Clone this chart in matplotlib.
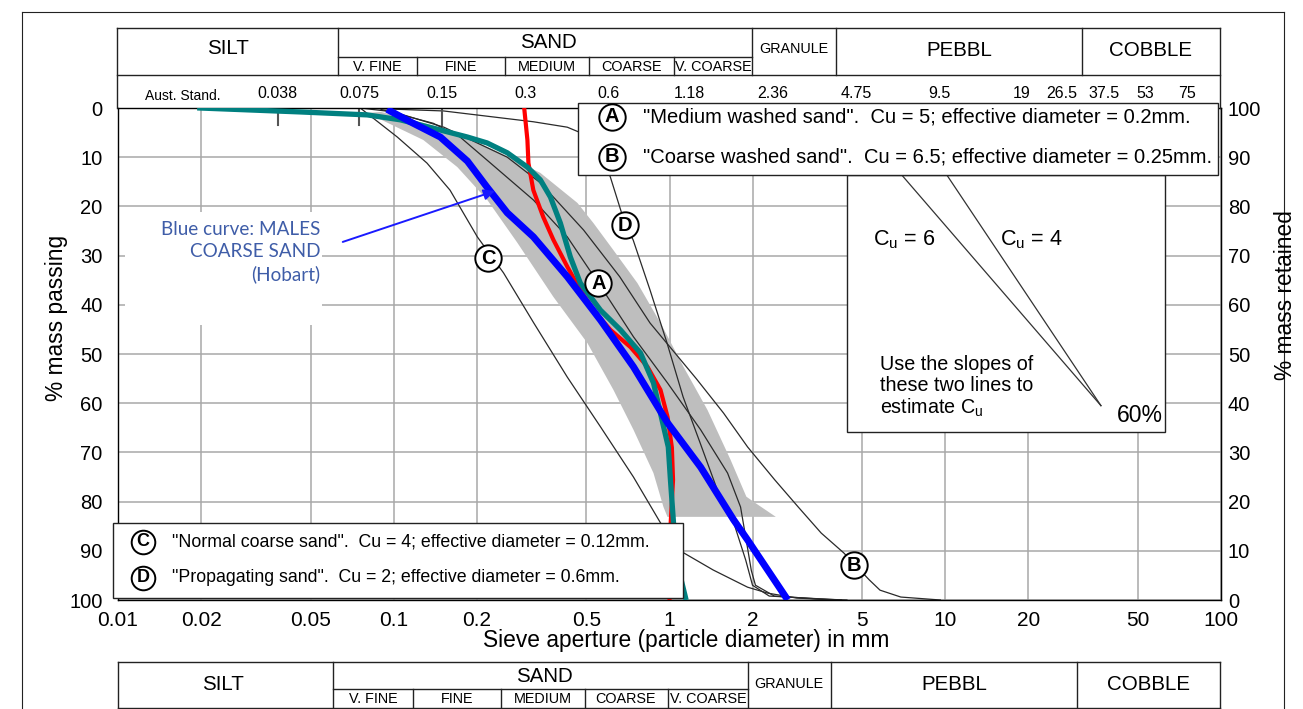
import matplotlib
matplotlib.use('Agg')
import matplotlib.pyplot as plt
from matplotlib.patches import Rectangle
from matplotlib.lines import Line2D
from matplotlib.ticker import NullLocator
from matplotlib.transforms import blended_transform_factory

plt.rcParams['font.family'] = ['Liberation Sans', 'DejaVu Sans']
plt.rcParams['mathtext.fontset'] = 'custom'
plt.rcParams['mathtext.rm'] = 'Liberation Sans'

W, H = 1303, 709

# ---- data (diameter in mm, % mass passing) ----
blue_d = [0.097, 0.1148, 0.1475, 0.185, 0.218, 0.258, 0.321, 0.426, 0.562, 0.740, 0.984, 1.297, 1.708, 1.92, 2.64]
blue_p = [0.6, 2.8, 5.9, 10.8, 16.1, 21.3, 26.2, 34.3, 43.1, 52.6, 64.0, 73.0, 83.7, 87.8, 99.4]

teal_d = [0.0198, 0.0458, 0.0801, 0.1056, 0.139, 0.185, 0.218, 0.258, 0.305, 0.340, 0.370, 0.402, 0.437,
          0.475, 0.562, 0.664, 0.785, 0.875, 0.927, 0.99, 1.008, 1.034, 1.06, 1.143]
teal_p = [0.0, 0.8, 1.4, 2.4, 4.1, 5.9, 7.1, 9.1, 12.0, 14.6, 18.1, 23.4, 30.3,
          35.6, 41.1, 45.1, 49.8, 55.9, 62.0, 68.9, 75.6, 84.3, 92.0, 99.5]

red_d = [0.2977, 0.3053, 0.3079, 0.3208, 0.3487, 0.3793, 0.4264, 0.4753, 0.530, 0.6106, 0.7219, 0.832,
         0.9276, 0.984, 1.02, 1.03, 1.01, 1.0]
red_p = [0.4, 6.5, 11.2, 16.7, 22.2, 26.8, 32.3, 37.0, 41.1, 45.1, 48.6, 52.6,
         57.3, 62.8, 69.0, 75.6, 84.3, 100.0]

a_d = [0.09, 0.139, 0.174, 0.218, 0.321, 0.426, 0.5525, 0.596, 0.740, 0.984, 1.297, 1.624, 1.81, 1.90, 1.98, 2.05, 2.4, 3.5, 4.4]
a_p = [0.3, 3.1, 5.9, 10.6, 18.7, 26.2, 35.6, 38.4, 46.5, 55.9, 65.4, 74.2, 81.1, 88.0, 94.0, 97.0, 99.2, 99.8, 100.0]

b_d = [0.0756, 0.10, 0.152, 0.258, 0.340, 0.488, 0.66, 0.85, 1.25, 1.57, 1.92, 2.41, 2.93, 3.55, 4.28, 5.3, 5.8, 6.9, 9.6]
b_p = [0.0, 0.8, 3.9, 10.0, 15.2, 24.8, 34.3, 43.7, 55.0, 62.0, 68.9, 75.6, 81.1, 86.4, 90.4, 95.9, 98.0, 99.4, 100.0]

c_d = [0.0756, 0.103, 0.132, 0.160, 0.201, 0.250, 0.322, 0.426, 0.562, 0.740, 0.927, 1.124, 1.44, 1.92, 2.27, 2.89, 4.0]
c_p = [0.0, 5.9, 11.2, 16.7, 26.2, 33.5, 43.7, 54.7, 64.8, 75.0, 84.3, 90.4, 93.9, 97.4, 98.6, 99.6, 100.0]

d_d = [0.0756, 0.1515, 0.321, 0.426, 0.47, 0.55, 0.61, 0.692, 0.738, 0.85, 0.98, 1.12, 1.29, 1.49, 1.71, 1.89, 2.0, 2.3, 4.2]
d_p = [0.0, 0.6, 2.8, 3.9, 4.9, 8.0, 14.0, 23.8, 26.8, 37.0, 47.8, 58.7, 68.0, 77.6, 84.3, 91.9, 97.0, 99.2, 100.0]

# grey envelope: left edge then right edge (reversed)
band_left_d = [0.08, 0.1280, 0.170, 0.2185, 0.2808, 0.3793, 0.5041, 0.6262, 0.7402, 0.8747, 0.951, 0.983]
band_left_p = [1.0, 6.5, 12.0, 18.7, 27.4, 38.4, 47.8, 57.3, 65.4, 74.2, 81.1, 83.1]
band_right_d = [0.09, 0.1056, 0.1604, 0.2435, 0.3403, 0.4637, 0.530, 0.6262, 0.7653, 0.9276, 1.124, 1.374, 1.665, 1.90, 2.05, 2.43]
band_right_p = [0.8, 1.8, 4.5, 9.1, 13.2, 19.3, 23.4, 28.9, 35.6, 43.7, 52.6, 61.4, 71.5, 79.0, 80.3, 83.1]

# Cu guide lines meet at 60 % passing
cu_apex_d = 36.7
cu_values = [6, 4]

curve_labels = ['A', 'B', 'C', 'D']
label_d = [0.5525, 4.66, 0.220, 0.692]
label_p = [35.6, 92.9, 30.5, 23.8]

x_ticks = [0.01, 0.02, 0.05, 0.1, 0.2, 0.5, 1, 2, 5, 10, 20, 50, 100]
x_tick_labels = ['0.01', '0.02', '0.05', '0.1', '0.2', '0.5', '1', '2', '5', '10', '20', '50', '100']
y_ticks = list(range(0, 101, 10))

aust_sieves = [0.038, 0.075, 0.15, 0.3, 0.6, 1.18, 2.36, 4.75, 9.5, 19, 26.5, 37.5, 53, 75]
aust_labels = ['0.038', '0.075', '0.15', '0.3', '0.6', '1.18', '2.36', '4.75', '9.5', '19', '26.5', '37.5', '53', '75']
sieve_ticks = [0.038, 0.075, 0.15]

legend_ab = ['"Medium washed sand".  Cu = 5; effective diameter = 0.2mm.',
             '"Coarse washed sand".  Cu = 6.5; effective diameter = 0.25mm.']
legend_cd = ['"Normal coarse sand".  Cu = 4; effective diameter = 0.12mm.',
             '"Propagating sand".  Cu = 2; effective diameter = 0.6mm.']


def fx(x):
    return x / W


def fy(y):
    return 1 - y / H


fig = plt.figure(figsize=(W / 100, H / 100), dpi=100)
ax = fig.add_axes([fx(118), fy(600), (1221 - 118) / W, (600 - 108) / H])
tf = fig.transFigure

ax.set_xscale('log')
ax.set_xlim(0.01, 100)
ax.set_ylim(100, 0)
ax.set_xticks(x_ticks)
ax.set_xticklabels(x_tick_labels)
ax.xaxis.set_minor_locator(NullLocator())
ax.set_yticks(y_ticks)
ax.tick_params(axis='x', length=0, pad=8, labelsize=15)
ax.tick_params(axis='y', length=0, pad=11, labelsize=14.5)
ax.grid(True, color='#a8a8a8', lw=1.1)
ax.set_axisbelow(True)
for s in ax.spines.values():
    s.set_linewidth(1.0)

sec = ax.secondary_yaxis('right', functions=(lambda p: 100 - p, lambda r: 100 - r))
sec.set_yticks(y_ticks)
sec.tick_params(length=0, pad=5, labelsize=14.5)
for t in sec.get_yticklabels():
    t.set_verticalalignment('center_baseline')

# white patch behind the blue note
ax.add_patch(Rectangle((fx(125), fy(325)), 197 / W, 113 / H, transform=tf,
                       fc='white', ec='none', zorder=1, clip_on=False))

ax.fill(band_left_d + band_right_d[::-1], band_left_p + band_right_p[::-1],
        color='#bebebe', lw=0, zorder=1.5)

for dd, pp in [(a_d, a_p), (b_d, b_p), (c_d, c_p), (d_d, d_p)]:
    ax.plot(dd, pp, color='#2a2a2a', lw=0.9, zorder=2)

# short sieve marks along the top
for s in sieve_ticks:
    ax.plot([s, s], [0, 3.5], color='#555555', lw=1.5, zorder=2)

ax.plot(red_d, red_p, color='#ff0000', lw=3.0, zorder=3)
ax.plot(teal_d, teal_p, color='#008080', lw=3.8, zorder=3.5)
ax.plot(blue_d, blue_p, color='#0000ff', lw=5.0, zorder=4)


def badge(x, y, letter, transform, z, ms=19, fs=14.5):
    ax.plot([x], [y], 'o', ms=ms, mfc='white', mec='black', mew=1.4,
            transform=transform, zorder=z, clip_on=False)
    ax.text(x, y, letter, ha='center', va='center', fontsize=fs, fontweight='bold',
            transform=transform, zorder=z + 0.1, clip_on=False)


for lab, dd, pp in zip(curve_labels, label_d, label_p):
    badge(dd, pp, lab, ax.transData, 5)

# blue note and arrow
fig.text(fx(320), fy(252), 'Blue curve: MALES\nCOARSE SAND\n(Hobart)', ha='right', va='center',
         multialignment='right', color='#3f5da8', fontsize=13.6, family=['Lato', 'DejaVu Sans'],
         linespacing=1.35, zorder=6)
ax.annotate('', xy=(0.2376, 16.7), xytext=(0.0639, 27.4),
            arrowprops=dict(arrowstyle='-|>', color='#1a1aff', lw=1.4, mutation_scale=16), zorder=6)

# Cu box
ax.add_patch(Rectangle((fx(847), fy(432)), (1165 - 847) / W, (432 - 175) / H, transform=tf,
                       fc='white', ec='#222222', lw=1.0, zorder=6, clip_on=False))
for cu in cu_values:
    ax.plot([cu_apex_d / cu, cu_apex_d], [10, 60.5], color='#333333', lw=0.9, zorder=6.5)
fig.text(fx(904), fy(240), r'C$_\mathregular{u}$ = 6', ha='center', va='center', fontsize=15.5, zorder=7)
fig.text(fx(1031), fy(240), r'C$_\mathregular{u}$ = 4', ha='center', va='center', fontsize=15.5, zorder=7)
fig.text(fx(880), fy(387), 'Use the slopes of\nthese two lines to\nestimate C$_\\mathregular{u}$', ha='left',
         va='center', fontsize=14.2, linespacing=1.12, zorder=7)
fig.text(fx(1140), fy(416), '60%', ha='center', va='center', fontsize=16.5, zorder=7)

# legend boxes
ax.add_patch(Rectangle((fx(578), fy(175)), (1218 - 578) / W, (175 - 103) / H, transform=tf,
                       fc='white', ec='#222222', lw=1.0, zorder=8, clip_on=False))
for i, (lab, txt) in enumerate(zip(['A', 'B'], legend_ab)):
    yy = [117, 157][i]
    badge(fx(612), fy(yy), lab, tf, 8.5)
    fig.text(fx(643), fy(yy), txt, ha='left', va='center', fontsize=14.5, zorder=9)

ax.add_patch(Rectangle((fx(113), fy(598)), (683 - 113) / W, (598 - 523) / H, transform=tf,
                       fc='white', ec='#222222', lw=1.0, zorder=8, clip_on=False))
for i, (lab, txt) in enumerate(zip(['C', 'D'], legend_cd)):
    yy = [542, 578][i]
    badge(fx(143), fy(yy), lab, tf, 8.5, ms=17, fs=13)
    fig.text(fx(172), fy(yy), txt, ha='left', va='center', fontsize=12.8, zorder=9)

# axis titles
fig.text(fx(686), fy(641), 'Sieve aperture (particle diameter) in mm', ha='center', va='center', fontsize=16.4)
fig.text(fx(56), fy(318), '% mass passing', rotation=90, ha='center', va='center', fontsize=16.4)
fig.text(fx(1286), fy(295), '% mass retained', rotation=90, ha='center', va='center', fontsize=16.4)


def hline(x0, x1, y, lw=1.0):
    fig.add_artist(Line2D([fx(x0), fx(x1)], [fy(y), fy(y)], color='#222222', lw=lw))


def vline(x, y0, y1, lw=1.0):
    fig.add_artist(Line2D([fx(x), fx(x)], [fy(y0), fy(y1)], color='#222222', lw=lw))


# page frame
hline(22, 1284, 12, 0.8)
vline(22, 12, 709, 0.8)
vline(1284, 12, 709, 0.8)

# top classification table
hline(117, 1220, 28)
hline(117, 1220, 75)
hline(338, 752, 57)
for x in [117, 1220]:
    vline(x, 28, 108)
for x in [338, 752, 836, 1082]:
    vline(x, 28, 75)
for x in [417, 505, 589, 674]:
    vline(x, 57, 75)
big = dict(ha='center', va='center', fontsize=14.8)
small = dict(ha='center', va='center', fontsize=10.4)
fig.text(fx(228), fy(49), 'SILT', **big)
fig.text(fx(548), fy(42), 'SAND', **big)
fig.text(fx(959), fy(50), 'PEBBL', **big)
fig.text(fx(1150), fy(50), 'COBBLE', **big)
fig.text(fx(794), fy(49), 'GRANULE', **small)
for x, t in zip([377, 461, 547, 631, 713], ['V. FINE', 'FINE', 'MEDIUM', 'COARSE', 'V. COARSE']):
    fig.text(fx(x), fy(67), t, **small)
fig.text(fx(183), fy(96), 'Aust. Stand.', ha='center', va='center', fontsize=10)
bt = blended_transform_factory(ax.transData, tf)
for s, t in zip(aust_sieves, aust_labels):
    ax.text(s, fy(93), t, transform=bt, ha='center', va='center', fontsize=11.5, clip_on=False)

# bottom classification table
hline(118, 1220, 662)
hline(333, 748, 689)
hline(118, 1220, 708)
for x in [118, 333, 748, 831, 1077, 1220]:
    vline(x, 662, 709)
for x in [413, 501, 585, 668]:
    vline(x, 689, 709)
fig.text(fx(223), fy(685), 'SILT', **big)
fig.text(fx(544), fy(676), 'SAND', **big)
fig.text(fx(954), fy(685), 'PEBBL', **big)
fig.text(fx(1148), fy(685), 'COBBLE', **big)
fig.text(fx(789), fy(684), 'GRANULE', **small)
for x, t in zip([373, 457, 543, 626, 708], ['V. FINE', 'FINE', 'MEDIUM', 'COARSE', 'V. COARSE']):
    fig.text(fx(x), fy(699), t, **small)

fig.savefig('out.png', dpi=100)
